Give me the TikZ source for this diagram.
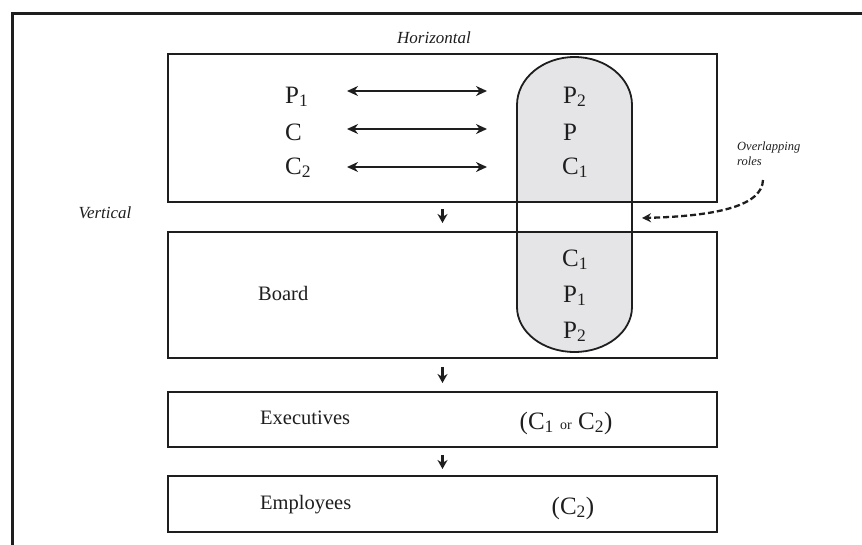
\documentclass[tikz,border=0pt]{standalone}
\usepackage{fontspec}
\setmainfont{Liberation Serif}
\usetikzlibrary{arrows.meta}
\definecolor{pillgray}{RGB}{229,229,231}
\definecolor{ink}{RGB}{30,30,30}
\begin{document}
\begin{tikzpicture}[x=1pt,y=-1pt,
  box/.style={draw=ink, line width=2pt, minimum width=549pt, anchor=north west, inner sep=0pt},
  lbl/.style={font=\fontsize{20.5}{24}\selectfont, anchor=base west, inner sep=0pt, text=ink},
  role/.style={font=\fontsize{25}{28}\selectfont, anchor=base west, inner sep=0pt, text=ink},
  paren/.style={font=\fontsize{25}{28}\selectfont, anchor=base, inner sep=0pt, text=ink},
  harrow/.style={draw=ink, line width=2.8pt, {Stealth[length=11pt,width=10pt]}-{Stealth[length=11pt,width=10pt]}},
  darrow/.style={draw=ink, line width=2.8pt, -{Stealth[length=9pt,width=10pt]}},
  note/.style={font=\itshape\fontsize{17}{20}\selectfont, anchor=base, inner sep=0pt, text=ink},
  small/.style={font=\itshape\fontsize{12.5}{15}\selectfont, align=left, anchor=north west, inner sep=0pt, text=ink}]
\useasboundingbox (0,0) rectangle (862,544);
% outer frame
\draw[ink, line width=3pt] (12,560) -- (12,13) -- (880,13);
% pill (overlapping roles)
\fill[pillgray] (517,201) -- (517,105) arc[start angle=180,end angle=0,x radius=57.5pt,y radius=48pt] -- (632,201) -- cycle;
\fill[pillgray] (517,231) -- (517,307) arc[start angle=180,end angle=360,x radius=57.5pt,y radius=45pt] -- (632,231) -- cycle;
\draw[ink, line width=1.8pt] (517,231) -- (517,105) arc[start angle=180,end angle=0,x radius=57.5pt,y radius=48pt] -- (632,231);
\draw[ink, line width=1.8pt] (517,201) -- (517,307) arc[start angle=180,end angle=360,x radius=57.5pt,y radius=45pt] -- (632,201);
% boxes
\node[box, minimum height=148pt] (b1) at (167,53) {};
\node[box, minimum height=126pt] (b2) at (167,231) {};
\node[box, minimum height=55pt] (b3) at (167,391) {};
\node[box, minimum height=56pt] (b4) at (167,475) {};
% titles
\node[note] (hor) at (434,43) {Horizontal};
\node[note] (ver) at (105,218) {Vertical};
% horizontal roles
\node[role] (l1) at (285,103) {P\textsubscript{1}};
\node[role] (l2) at (285,140) {C};
\node[role] (l3) at (285,174) {C\textsubscript{2}};
\node[role] (r1) at (563,103) {P\textsubscript{2}};
\node[role] (r2) at (563,140) {P};
\node[role] (r3) at (562,174) {C\textsubscript{1}};
\coordinate (h1a) at (347,91); \coordinate (h1b) at (487,91);
\coordinate (h2a) at (347,129); \coordinate (h2b) at (487,129);
\coordinate (h3a) at (347,167); \coordinate (h3b) at (487,167);
\draw[harrow] (h1a) -- (h1b);
\draw[harrow] (h2a) -- (h2b);
\draw[harrow] (h3a) -- (h3b);
% board
\node[lbl] (board) at (258,300) {Board};
\node[role] (s1) at (562,266) {C\textsubscript{1}};
\node[role] (s2) at (563,302) {P\textsubscript{1}};
\node[role] (s3) at (563,338) {P\textsubscript{2}};
% executives / employees
\node[lbl] (exe) at (260,424) {Executives};
\node[paren] (exr) at (566,429) {(C\textsubscript{1} {\fontsize{14}{16}\selectfont or} C\textsubscript{2})};
\node[lbl] (emp) at (260,509) {Employees};
\node[paren] (emr) at (573,514) {(C\textsubscript{2})};
% vertical arrows
\draw[darrow, shorten <=6pt, shorten >=8pt] (b1.south) -- (b2.north);
\draw[darrow, shorten <=8pt, shorten >=8pt] (b2.south) -- (b3.north);
\draw[darrow, shorten <=7pt, shorten >=6pt] (b3.south) -- (b4.north);
% overlapping roles note
\node[small] (ol) at (737,142) {Overlapping\\roles};
\coordinate (olstart) at (763,180);
\coordinate (oltip) at (642,218);
\draw[ink, line width=2.3pt, dash pattern=on 6pt off 3pt, -{Stealth[length=9pt,width=9pt]}]
  (olstart) .. controls (762,205) and (720,216) .. (oltip);
\end{tikzpicture}
\end{document}
